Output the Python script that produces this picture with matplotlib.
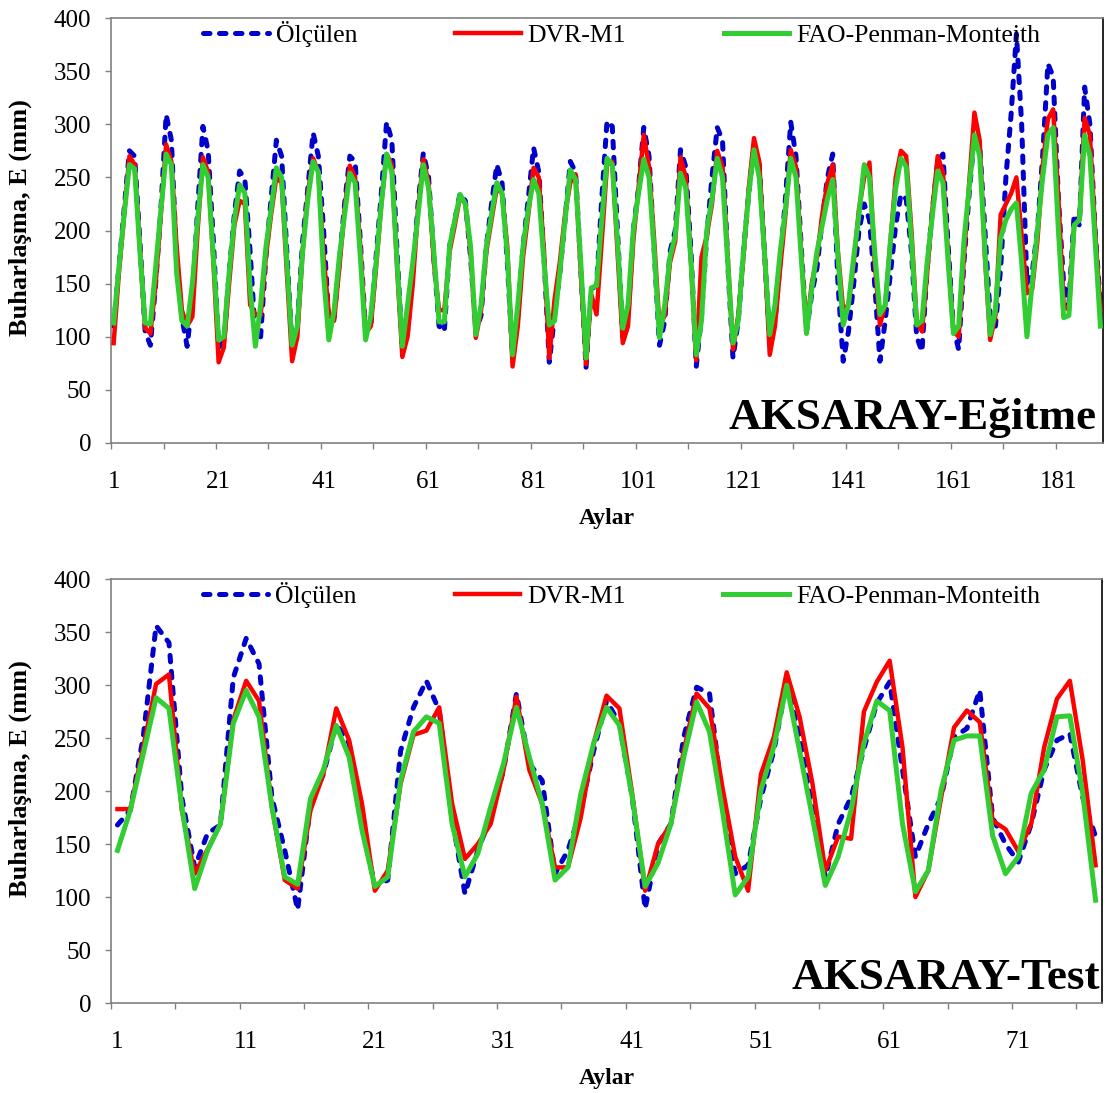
import matplotlib
matplotlib.use("Agg")
import matplotlib.pyplot as plt
import numpy as np

plt.rcParams['font.family'] = ['Liberation Serif', 'DejaVu Serif']

# Egitme donemi: 27 sezon x 7 ay (Nisan-Ekim)
olculen_egitme = [
    110, 165, 220, 275, 270, 190, 105,
    92, 150, 220, 309, 285, 170, 118,
    91, 135, 220, 298, 275, 190, 90,
    95, 160, 215, 256, 248, 180, 100,
    100, 175, 230, 285, 270, 180, 90,
    110, 190, 240, 292, 270, 200, 115,
    118, 170, 225, 270, 265, 190, 105,
    110, 175, 235, 302, 285, 180, 86,
    105, 160, 225, 273, 250, 175, 110,
    105, 185, 210, 235, 228, 175, 105,
    120, 185, 225, 262, 245, 170, 82,
    120, 185, 230, 278, 255, 175, 76,
    120, 160, 210, 265, 255, 165, 71,
    145, 148, 230, 303, 298, 200, 100,
    120, 200, 240, 297, 270, 180, 92,
    115, 180, 200, 276, 260, 180, 72,
    120, 195, 250, 297, 285, 170, 80,
    115, 180, 235, 280, 262, 180, 95,
    115, 170, 230, 302, 270, 185, 105,
    140, 165, 210, 250, 272, 150, 77,
    105, 150, 200, 225, 210, 150, 77,
    115, 160, 205, 234, 230, 180, 100,
    86, 165, 220, 265, 272, 185, 108,
    88, 170, 235, 290, 280, 200, 120,
    110, 165, 250, 310, 385, 300, 150,
    160, 200, 270, 357, 345, 230, 150,
    130, 215, 205, 335, 300, 200, 130,
]
dvr_egitme = [
    94, 160, 215, 270, 262, 185, 108,
    103, 150, 215, 281, 265, 185, 125,
    110, 119, 200, 269, 255, 170, 76,
    90, 150, 205, 228, 225, 130, 121,
    120, 175, 215, 250, 245, 160, 77,
    100, 180, 235, 268, 255, 175, 122,
    115, 165, 220, 261, 250, 185, 103,
    110, 165, 225, 272, 262, 165, 81,
    100, 150, 220, 267, 245, 170, 125,
    125, 180, 205, 232, 225, 180, 99,
    125, 180, 210, 240, 235, 185, 72,
    110, 175, 215, 259, 250, 180, 80,
    135, 170, 215, 245, 253, 160, 74,
    140, 121, 190, 262, 265, 180, 94,
    110, 190, 240, 290, 260, 190, 110,
    120, 170, 190, 269, 250, 170, 78,
    175, 195, 225, 275, 260, 175, 88,
    120, 175, 240, 287, 265, 180, 83,
    110, 165, 215, 276, 260, 180, 105,
    150, 175, 215, 245, 262, 180, 125,
    130, 170, 220, 250, 264, 170, 111,
    130, 190, 250, 275, 270, 200, 115,
    105, 160, 220, 270, 255, 175, 105,
    100, 175, 245, 311, 285, 175, 97,
    120, 215, 225, 235, 250, 195, 141,
    145, 190, 260, 305, 314, 230, 130,
    125, 205, 210, 306, 290, 200, 125,
]
fao_egitme = [
    113, 165, 215, 262, 258, 180, 113,
    112, 165, 218, 272, 262, 160, 115,
    110, 150, 210, 262, 250, 175, 97,
    100, 160, 210, 243, 235, 146, 91,
    130, 184, 220, 259, 250, 170, 92,
    110, 180, 230, 265, 255, 158, 97,
    125, 175, 215, 254, 245, 175, 97,
    120, 170, 225, 272, 255, 170, 91,
    130, 170, 215, 262, 240, 180, 114,
    114, 185, 210, 234, 225, 185, 102,
    130, 185, 215, 245, 235, 177, 83,
    130, 185, 220, 248, 235, 170, 111,
    115, 160, 210, 257, 248, 170, 80,
    146, 148, 210, 268, 262, 190, 108,
    130, 200, 235, 267, 250, 180, 99,
    130, 175, 195, 254, 240, 170, 83,
    115, 200, 230, 268, 250, 170, 94,
    115, 180, 235, 276, 250, 180, 102,
    130, 180, 220, 268, 250, 175, 103,
    145, 180, 205, 230, 248, 175, 111,
    130, 175, 215, 262, 250, 180, 121,
    130, 190, 240, 268, 260, 190, 111,
    115, 170, 215, 256, 245, 170, 103,
    110, 190, 240, 290, 270, 180, 102,
    125, 193, 210, 220, 226, 170, 100,
    150, 200, 250, 290, 297, 200, 118,
    120, 205, 210, 290, 270, 190, 110,
]

# Test donemi: 11 sezon x 7 ay
olculen_test = [
    168, 182, 251, 356, 340, 194, 128, 160, 168, 307, 344, 320, 194, 144, 88, 188, 216, 263, 245, 169,
    110, 116, 238, 279, 304, 276, 175, 103, 144, 175, 220, 292, 226, 210, 122, 144, 182, 238, 285,
    264, 194, 89, 150, 169, 251, 298, 292, 194, 122, 130, 194, 238, 303, 251, 182, 119, 169, 194, 240,
    283, 303, 220, 138, 169, 194, 251, 259, 295, 175, 150, 133, 169, 220, 248, 254, 194, 157,
]
dvr_test = [
    183, 183, 241, 301, 310, 182, 122, 145, 169, 267, 304, 285, 185, 116, 108, 182, 216, 278, 248, 188,
    106, 125, 207, 253, 257, 279, 188, 136, 150, 169, 220, 289, 220, 188, 128, 128, 175, 245, 290,
    278, 197, 106, 150, 169, 238, 292, 278, 204, 138, 106, 216, 251, 312, 270, 207, 125, 157, 155, 275,
    303, 323, 241, 100, 125, 194, 260, 276, 265, 172, 164, 143, 169, 241, 287, 304, 229, 130,
]
fao_test = [
    144, 182, 235, 288, 278, 185, 108, 144, 169, 264, 295, 270, 185, 119, 112, 193, 220, 262, 232, 163,
    110, 119, 210, 256, 270, 264, 169, 119, 141, 185, 226, 279, 232, 188, 116, 128, 197, 245, 279,
    262, 194, 110, 132, 169, 232, 284, 256, 182, 102, 119, 201, 242, 300, 238, 175, 111, 138, 182, 245,
    285, 276, 169, 105, 125, 201, 248, 252, 252, 158, 122, 138, 198, 220, 270, 271, 198, 97,
]

seri_adlari = ["Ölçülen", "DVR-M1", "FAO-Penman-Monteith"]
egitme_etiket = [1, 21, 41, 61, 81, 101, 121, 141, 161, 181]
test_etiket = [1, 11, 21, 31, 41, 51, 61, 71]
y_etiket = [0, 50, 100, 150, 200, 250, 300, 350, 400]

gri = '#808080'


def panel_ciz(ax, olc, dvr, fao, etiketler, ara, baslik, baslik_x):
    x = np.arange(1, len(olc) + 1)
    ax.plot(x, olc, color='#0000CC', lw=3.6, dashes=(1.3, 1.9),
            dash_capstyle='round', label=seri_adlari[0], zorder=2)
    ax.plot(x, dvr, color='#FF0000', lw=3.2, label=seri_adlari[1], zorder=3)
    ax.plot(x, fao, color='#32CD32', lw=3.6, label=seri_adlari[2], zorder=4)

    ax.set_xlim(0.5, len(olc) + 0.5)
    ax.set_ylim(0, 400)
    ax.set_yticks(y_etiket)
    ax.set_xticks(etiketler)
    ax.set_xticks(np.arange(0.5, len(olc) + 0.5, ara), minor=True)

    ax.tick_params(axis='x', which='major', length=0, pad=20, labelsize=18)
    ax.tick_params(axis='x', which='minor', length=4, width=1, color=gri)
    ax.tick_params(axis='y', length=4.3, width=1, color=gri, pad=10, labelsize=18)

    for s in ['left', 'bottom', 'top']:
        ax.spines[s].set_color(gri)
        ax.spines[s].set_linewidth(1.2)
    ax.spines['right'].set_color('black')
    ax.spines['right'].set_linewidth(1.2)

    ax.set_ylabel("Buharlaşma, E (mm)", fontsize=19, fontweight='bold')
    ax.yaxis.set_label_coords(-0.08, 0.53)
    ax.set_xlabel("Aylar", fontsize=17, fontweight='bold')
    ax.xaxis.set_label_coords(0.5, -0.153)

    ax.legend(loc='center', bbox_to_anchor=(0.515, 0.962), ncol=3, frameon=False,
              fontsize=18.5, handlelength=2.55, handletextpad=0.28,
              columnspacing=3.8, borderpad=0, borderaxespad=0)

    ax.text(baslik_x, 0.033, baslik, transform=ax.transAxes, ha='right', va='baseline',
            fontsize=32.5, fontweight='bold')


fig = plt.figure(figsize=(11.07, 10.93), dpi=100)
ax1 = fig.add_axes([0.1003, 0.5947, 0.8961, 0.3888])
ax2 = fig.add_axes([0.1003, 0.0823, 0.8952, 0.3879])

panel_ciz(ax1, olculen_egitme, dvr_egitme, fao_egitme, egitme_etiket, 10, "AKSARAY-Eğitme", 0.993)
panel_ciz(ax2, olculen_test, dvr_test, fao_test, test_etiket, 5, "AKSARAY-Test", 0.998)

fig.savefig("out.png", dpi=100)
